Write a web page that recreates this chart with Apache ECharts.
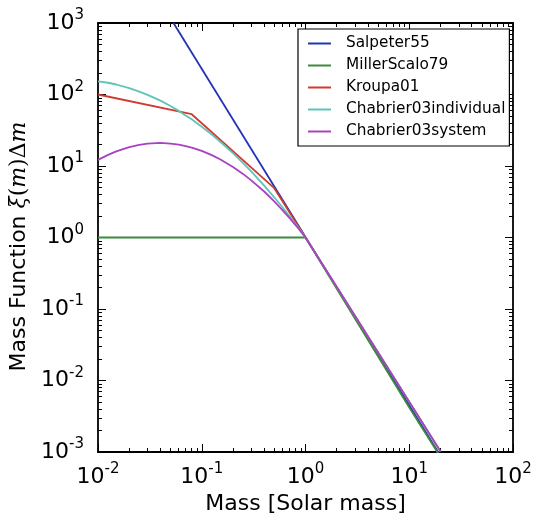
<!DOCTYPE html>
<html>
<head>
<meta charset="utf-8">
<script src="https://cdn.jsdelivr.net/npm/echarts@6/dist/echarts.min.js"></script>
<style>
  html, body { margin: 0; padding: 0; background: #fff; }
  #chart { width: 540px; height: 527px; }
</style>
</head>
<body>
<div id="chart"></div>
<script>
// values (mass in solar masses, xi(m) dm)
const salpeterMass = [0.0534, 20];
const salpeterXi = [1000, 0.00088];

const millerMass = [0.01, 1, 10, 20];
const millerXi = [1, 1, 0.0042, 0.00085];

const kroupaMass = [0.01, 0.08, 0.5, 1, 20];
const kroupaXi = [100, 53, 4.9, 1, 0.00102];

const chabIndMass = [0.01, 0.0125, 0.015, 0.02, 0.025, 0.03, 0.04, 0.05, 0.06, 0.07, 0.08, 0.1,
  0.125, 0.15, 0.2, 0.25, 0.3, 0.4, 0.5, 0.6, 0.7, 0.85, 1, 20];
const chabIndXi = [153, 146, 138, 123, 110, 99, 82, 69, 59, 51, 45, 35.4,
  27.5, 22, 15.1, 11, 8.4, 5.3, 3.65, 2.65, 1.99, 1.38, 1, 0.00102];

const chabSysMass = [0.01, 0.0125, 0.015, 0.02, 0.025, 0.03, 0.04, 0.05, 0.06, 0.07, 0.08, 0.1,
  0.125, 0.15, 0.2, 0.25, 0.3, 0.4, 0.5, 0.6, 0.7, 0.85, 1, 20];
const chabSysXi = [12.2, 14.3, 16, 18.4, 19.8, 20.5, 21, 20.6, 19.9, 19, 18.1, 16.3,
  14.2, 12.4, 9.7, 7.75, 6.3, 4.4, 3.2, 2.42, 1.88, 1.35, 1, 0.00102];

const seriesNames = ['Salpeter55', 'MillerScalo79', 'Kroupa01', 'Chabrier03individual', 'Chabrier03system'];
const seriesColors = ['#2233b5', '#3d8b3d', '#d03a32', '#5fc4b8', '#a842c2'];

const xRange = [0.01, 100];
const yRange = [0.001, 1000];

function pairs(xs, ys) {
  return xs.map((x, i) => [x, ys[i]]);
}

const seriesData = [
  pairs(salpeterMass, salpeterXi),
  pairs(millerMass, millerXi),
  pairs(kroupaMass, kroupaXi),
  pairs(chabIndMass, chabIndXi),
  pairs(chabSysMass, chabSysXi)
];

const font = 'DejaVu Sans';

// 10^n label with a raised exponent
function powLabel(v) {
  const e = Math.round(Math.log10(v));
  return '{b|10}{s|' + e + '}';
}
const powRich = {
  b: { fontFamily: font, fontSize: 22, color: '#000' },
  s: { fontFamily: font, fontSize: 15, color: '#000', padding: [0, 0, 15, 0] }
};

function logAxis(range, pos, showLabel, extra) {
  return Object.assign({
    type: 'log',
    logBase: 10,
    min: range[0],
    max: range[1],
    position: pos,
    axisLine: { show: true, lineStyle: { color: '#000', width: 1.8 } },
    axisTick: { show: true, inside: true, length: 8, lineStyle: { color: '#000', width: 1 } },
    minorTick: { show: true, splitNumber: 9, length: 4, lineStyle: { color: '#000', width: 1 } },
    splitLine: { show: false },
    minorSplitLine: { show: false },
    axisLabel: { show: showLabel, formatter: powLabel, rich: powRich }
  }, extra || {});
}

const chart = echarts.init(document.getElementById('chart'));

chart.setOption({
  animation: false,
  backgroundColor: '#fff',
  grid: { left: 98, right: 27, top: 23, bottom: 75, containLabel: false },
  legend: {
    orient: 'vertical',
    left: 298,
    top: 29,
    padding: [7, 4, 7, 10],
    itemWidth: 23,
    itemHeight: 2,
    itemGap: 7,
    icon: 'rect',
    backgroundColor: '#fff',
    borderColor: '#000',
    borderWidth: 1.2,
    borderRadius: 0,
    textStyle: { fontFamily: font, fontSize: 15.3, color: '#000', padding: [0, 0, 0, 10] },
    data: seriesNames
  },
  xAxis: [
    logAxis(xRange, 'bottom', true, {
      name: 'Mass [Solar mass]',
      nameLocation: 'middle',
      nameGap: 41,
      nameTextStyle: { fontFamily: font, fontSize: 22, color: '#000' },
      axisLabel: { show: true, formatter: powLabel, rich: powRich, margin: 10 }
    }),
    logAxis(xRange, 'top', false)
  ],
  yAxis: [
    logAxis(yRange, 'left', true, {
      name: '{a|Mass Function }{m|ξ}{p|(}{m|m}{p|)}{p|Δ}{m|m}',
      nameLocation: 'middle',
      nameRotate: 90,
      nameGap: 66,
      nameTextStyle: {
        fontFamily: font, fontSize: 22, color: '#000',
        padding: [0, 18, 0, 0],
        rich: {
          a: { fontFamily: font, fontSize: 22, color: '#000' },
          m: { fontFamily: 'DejaVu Serif', fontStyle: 'italic', fontSize: 22, color: '#000' },
          p: { fontFamily: 'DejaVu Serif', fontSize: 22, color: '#000' }
        }
      },
      axisLabel: { show: true, formatter: powLabel, rich: powRich, margin: 14 }
    }),
    logAxis(yRange, 'right', false)
  ],
  series: seriesNames.map((name, i) => ({
    name: name,
    type: 'line',
    xAxisIndex: 0,
    yAxisIndex: 0,
    data: seriesData[i],
    showSymbol: false,
    symbol: 'none',
    clip: true,
    smooth: false,
    lineStyle: { color: seriesColors[i], width: 1.8 },
    itemStyle: { color: seriesColors[i] }
  }))
});
</script>
</body>
</html>
